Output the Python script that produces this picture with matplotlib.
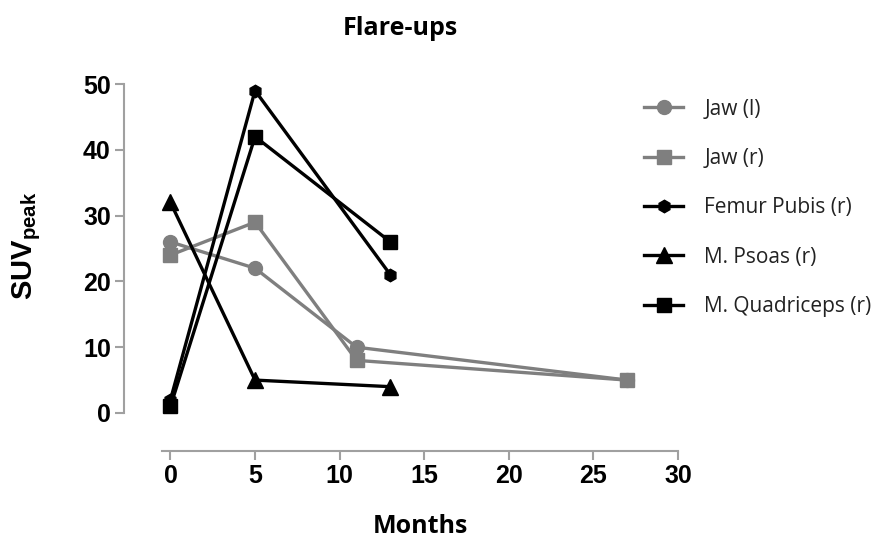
import matplotlib
matplotlib.use("Agg")
import matplotlib.pyplot as plt

plt.rcParams['mathtext.fontset'] = 'custom'
plt.rcParams['mathtext.bf'] = 'Liberation Sans:bold'
plt.rcParams['mathtext.rm'] = 'Liberation Sans'

# Data
jaw_l_x = [0, 5, 11, 27]
jaw_l_y = [26, 22, 10, 5]
jaw_r_x = [0, 5, 11, 27]
jaw_r_y = [24, 29, 8, 5]
femur_x = [0, 5, 13]
femur_y = [2, 49, 21]
psoas_x = [0, 5, 13]
psoas_y = [32, 5, 4]
quad_x = [0, 5, 13]
quad_y = [1, 42, 26]

x_ticks = [0, 5, 10, 15, 20, 25, 30]
y_ticks = [0, 10, 20, 30, 40, 50]

gray = '#7f7f7f'
black = '#000000'

fig = plt.figure(figsize=(8.88, 5.39), dpi=100)
ax = fig.add_axes([162/888, 1-413/539, (678-162)/888, (413-84)/539])

lw = 2.4
ax.plot(jaw_l_x, jaw_l_y, color=gray, lw=lw, marker='o', ms=10, label='Jaw (l)', clip_on=False)
ax.plot(jaw_r_x, jaw_r_y, color=gray, lw=lw, marker='s', ms=10, label='Jaw (r)', clip_on=False)
ax.plot(femur_x, femur_y, color=black, lw=lw, marker='h', ms=9, label='Femur Pubis (r)', clip_on=False)
ax.plot(psoas_x, psoas_y, color=black, lw=lw, marker='^', ms=12, label='M. Psoas (r)', clip_on=False)
ax.plot(quad_x, quad_y, color=black, lw=lw, marker='s', ms=10, label='M. Quadriceps (r)', clip_on=False)

ax.set_xlim(-0.5, 30)
ax.set_ylim(0, 50)
ax.set_xticks(x_ticks)
ax.set_yticks(y_ticks)

off = 38 / (100/72)
for s in ['top', 'right']:
    ax.spines[s].set_visible(False)
for s in ['left', 'bottom']:
    ax.spines[s].set_color('#a0a0a0')
    ax.spines[s].set_linewidth(1.5)
    ax.spines[s].set_position(('outward', off))

ax.tick_params(axis='both', colors='#a0a0a0', width=1.5, length=6.5, labelcolor='black', pad=3)
for lab in ax.get_xticklabels() + ax.get_yticklabels():
    lab.set_fontfamily('Liberation Sans')
    lab.set_fontweight('bold')
    lab.set_fontsize(18)

ax.set_ylabel('')
fig.text(27/888, 1-246/539, r'$\mathbf{SUV_{peak}}$', fontsize=21, rotation=90,
         ha='center', va='center')
fig.text(420/888, 1-533/539, 'Months', ha='center', va='baseline',
         fontfamily='Open Sans', fontweight='bold', fontsize=18)
fig.text(400/888, 1-35/539, 'Flare-ups', ha='center', va='baseline',
         fontfamily='Open Sans', fontweight='bold', fontsize=18)

leg = fig.legend(loc='upper left', bbox_to_anchor=(625/888, 1-80/539), frameon=False,
                 prop={'family': 'Open Sans', 'size': 15}, handlelength=1.9,
                 labelspacing=1.36, handletextpad=1.0)
for t in leg.get_texts():
    t.set_color('#222222')

fig.savefig('out.png', dpi=100)
